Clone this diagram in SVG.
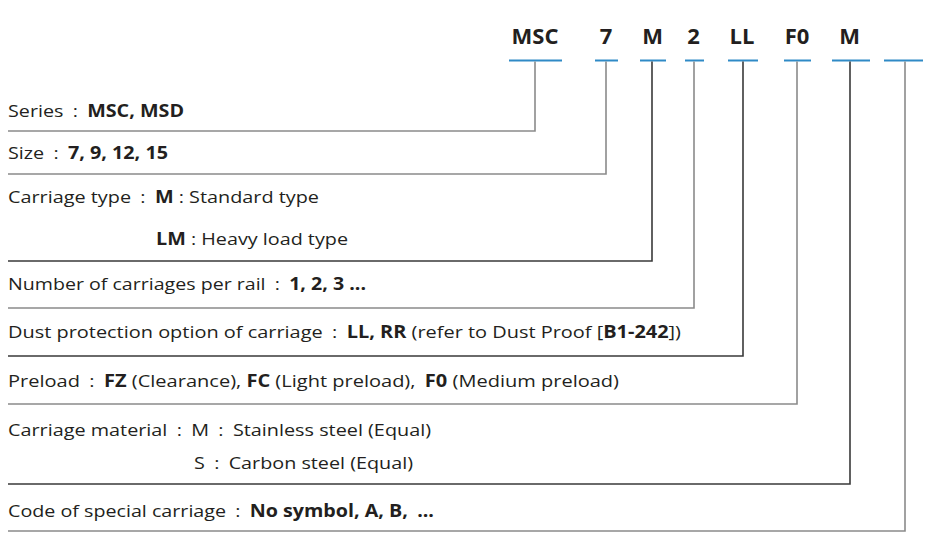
<svg xmlns="http://www.w3.org/2000/svg" width="931" height="540" viewBox="0 0 931 540">
<style>
  .code { font-family: "Open Sans", "Noto Sans", sans-serif; font-weight: 700; font-size: 22px; fill: #231f20; text-anchor: middle; }
  .body { font-family: "Open Sans", "Noto Sans", sans-serif; font-size: 17px; fill: #231f20; }
  .b { font-weight: 700; }
  .ul { stroke: #2f8ac6; stroke-width: 2; fill: none; }
  .ln { fill: none; stroke-width: 1.6; }
  .g { stroke: #8a8a8a; }
  .d { stroke: #3a3a3a; }
</style>
<rect width="931" height="540" fill="#ffffff"/>

<g id="code-labels">
  <g id="code-msc"><text class="code" x="535" y="44">MSC</text><line class="ul" x1="509" y1="60.5" x2="562" y2="60.5"/></g>
  <g id="code-size"><text class="code" x="606" y="44">7</text><line class="ul" x1="595" y1="60.5" x2="618" y2="60.5"/></g>
  <g id="code-type"><text class="code" x="652.5" y="44">M</text><line class="ul" x1="640" y1="60.5" x2="666" y2="60.5"/></g>
  <g id="code-number"><text class="code" x="693.5" y="44">2</text><line class="ul" x1="685" y1="60.5" x2="704" y2="60.5"/></g>
  <g id="code-dust"><text class="code" x="742" y="44">LL</text><line class="ul" x1="728" y1="60.5" x2="758" y2="60.5"/></g>
  <g id="code-preload"><text class="code" x="797" y="44">F0</text><line class="ul" x1="784" y1="60.5" x2="811" y2="60.5"/></g>
  <g id="code-material"><text class="code" x="849.5" y="44">M</text><line class="ul" x1="832" y1="60.5" x2="870" y2="60.5"/></g>
  <g id="code-special"><line class="ul" x1="884" y1="60.5" x2="923" y2="60.5"/></g>
</g>

<g id="connectors">
  <polyline class="ln g" points="535,61.5 535,131 8,131"/>
  <polyline class="ln g" points="606,61.5 606,174 8,174"/>
  <polyline class="ln d" points="652,61.5 652,261 8,261"/>
  <polyline class="ln g" points="694,61.5 694,308 8,308"/>
  <polyline class="ln d" points="743,61.5 743,356 8,356"/>
  <polyline class="ln g" points="797,61.5 797,404 8,404"/>
  <polyline class="ln d" points="850,61.5 850,484 8,484"/>
  <polyline class="ln g" points="905,61.5 905,531 8,531"/>
</g>

<g id="desc-series">
  <text class="body" x="8" y="117" textLength="176" lengthAdjust="spacingAndGlyphs">Series<tspan dx="8">:</tspan><tspan dx="8" class="b">MSC, MSD</tspan></text>
</g>
<g id="desc-size">
  <text class="body" x="8" y="159" textLength="160" lengthAdjust="spacingAndGlyphs">Size<tspan dx="8">:</tspan><tspan dx="8" class="b">7, 9, 12, 15</tspan></text>
</g>
<g id="desc-type">
  <text class="body" x="8" y="202.5" textLength="311" lengthAdjust="spacingAndGlyphs">Carriage type<tspan dx="8">:</tspan><tspan dx="8" class="b">M</tspan> : Standard type</text>
  <text class="body" x="156" y="245" textLength="192" lengthAdjust="spacingAndGlyphs"><tspan class="b">LM</tspan> : Heavy load type</text>
</g>
<g id="desc-number">
  <text class="body" x="8" y="290" textLength="358" lengthAdjust="spacingAndGlyphs">Number of carriages per rail<tspan dx="8">:</tspan><tspan dx="8" class="b">1, 2, 3 ...</tspan></text>
</g>
<g id="desc-dust">
  <text class="body" x="8" y="338" textLength="673" lengthAdjust="spacingAndGlyphs">Dust protection option of carriage<tspan dx="8">:</tspan><tspan dx="8" class="b">LL, RR</tspan> (refer to Dust Proof [<tspan class="b">B1-242</tspan>])</text>
</g>
<g id="desc-preload">
  <text class="body" x="8" y="386.5" textLength="611" lengthAdjust="spacingAndGlyphs">Preload<tspan dx="8">:</tspan><tspan dx="8" class="b">FZ</tspan> (Clearance), <tspan class="b">FC</tspan> (Light preload),<tspan dx="8" class="b">F0</tspan> (Medium preload)</text>
</g>
<g id="desc-material">
  <text class="body" x="8" y="435.5" textLength="423" lengthAdjust="spacingAndGlyphs">Carriage material<tspan dx="8">:</tspan><tspan dx="8">M</tspan><tspan dx="8">:</tspan><tspan dx="8">Stainless steel (Equal)</tspan></text>
  <text class="body" x="194" y="469" textLength="219" lengthAdjust="spacingAndGlyphs">S<tspan dx="8">:</tspan><tspan dx="8">Carbon steel (Equal)</tspan></text>
</g>
<g id="desc-special">
  <text class="body" x="8" y="517" textLength="426" lengthAdjust="spacingAndGlyphs">Code of special carriage<tspan dx="8">:</tspan><tspan dx="8" class="b">No symbol, A, B,</tspan><tspan dx="8" class="b">...</tspan></text>
</g>
</svg>
